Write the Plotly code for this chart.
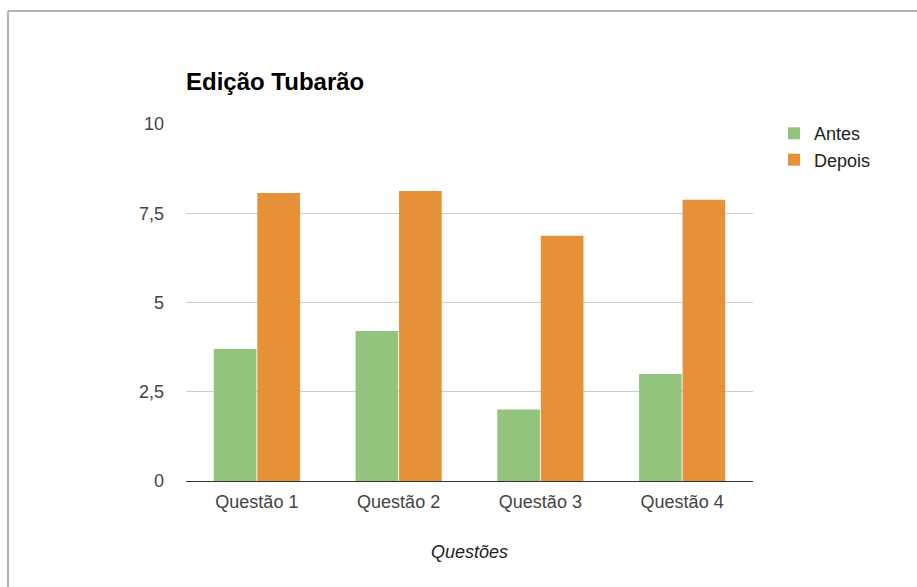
import plotly.graph_objects as go

categories = ["Questão 1", "Questão 2", "Questão 3", "Questão 4"]
antes = [3.7, 4.2, 2.0, 3.0]
depois = [8.07, 8.12, 6.87, 7.88]
y_ticks = [0, 2.5, 5, 7.5, 10]
y_ticktext = ["0", "2,5", "5", "7,5", "10"]

W, H = 917, 587
L, R, T, B = 186, 164, 124, 106
pw, ph = W - L - R, H - T - B

def px_x(x):
    return (x - L) / pw

def px_y(y):
    return (H - B - y) / ph

FONT = "Arial, Liberation Sans, sans-serif"

fig = go.Figure()
fig.add_trace(go.Bar(name="Antes", x=categories, y=antes, marker=dict(color="#93c47d", line=dict(width=0))))
fig.add_trace(go.Bar(name="Depois", x=categories, y=depois, marker=dict(color="#e69138", line=dict(width=0))))

fig.update_layout(
    width=W, height=H,
    margin=dict(l=L, r=R, t=T, b=B),
    paper_bgcolor="white", plot_bgcolor="white",
    barmode="group", bargap=0.386, bargroupgap=0.02,
    font=dict(family=FONT, size=18, color="#444"),
    title=dict(text="<b>Edição Tubarão</b>", x=L / W, xanchor="left", xref="container",
               y=1 - 82 / H, yanchor="middle", yref="container",
               font=dict(family=FONT, size=24, color="#000")),
    legend=dict(x=1.037, xanchor="left", y=1.025, yanchor="top",
                font=dict(family=FONT, size=18, color="#222"), bgcolor="rgba(0,0,0,0)",
                tracegroupgap=0),
    xaxis=dict(showgrid=False, ticks="", showline=False, ticklabelstandoff=8,
               tickfont=dict(size=18, color="#444"),
               title=dict(text="<i>Questões</i>", font=dict(size=18, color="#222"), standoff=34)),
    yaxis=dict(range=[0, 10], tickvals=y_ticks, ticktext=y_ticktext, showgrid=True,
               gridcolor="#cccccc", gridwidth=1, zeroline=True, zerolinecolor="#333333",
               zerolinewidth=1, ticks="", ticklabelstandoff=21,
               tickfont=dict(size=18, color="#444"), showline=False),
    showlegend=True,
    shapes=[
        dict(type="line", xref="paper", yref="paper", x0=px_x(8), x1=px_x(W), y0=px_y(11), y1=px_y(11),
             line=dict(color="#b3b3b3", width=2)),
        dict(type="line", xref="paper", yref="paper", x0=px_x(8), x1=px_x(8), y0=px_y(11), y1=px_y(H),
             line=dict(color="#b3b3b3", width=2)),
    ],
)

fig.write_html("out.html")
